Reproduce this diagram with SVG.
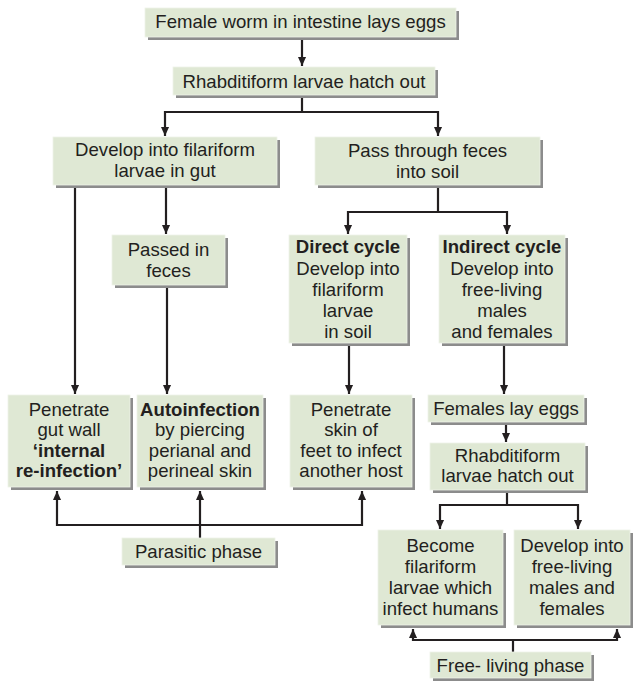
<svg xmlns="http://www.w3.org/2000/svg" width="636" height="683" viewBox="0 0 636 683">
<defs>
<style>
.sh{fill:#8c8c8c}
.bx{fill:#dfe8d4;stroke:#eef2e8;stroke-width:0.8}
text{font-family:"Liberation Sans",Arial,sans-serif;font-size:18.6px;fill:#231f20;text-anchor:middle}
.b{font-weight:bold}
.c{fill:none;stroke:#231f20;stroke-width:2.2}
</style>
<marker id="ah" markerUnits="userSpaceOnUse" markerWidth="9" markerHeight="9" viewBox="0 0 10 10" refX="10" refY="5" orient="auto">
<path d="M0,0.5 L10,5 L0,9.5 z" fill="#231f20"/>
</marker>
</defs>
<rect width="636" height="683" fill="#ffffff"/>

<g id="connectors">
<path class="c" d="M302,40 V66" marker-end="url(#ah)"/>
<path class="c" d="M302,98 V112 H165 V136" marker-end="url(#ah)"/>
<path class="c" d="M302,112 H438 V136" marker-end="url(#ah)"/>
<path class="c" d="M75,188 V394" marker-end="url(#ah)"/>
<path class="c" d="M166,188 V234" marker-end="url(#ah)"/>
<path class="c" d="M167,288 V394" marker-end="url(#ah)"/>
<path class="c" d="M438,188 V212 H348 V234" marker-end="url(#ah)"/>
<path class="c" d="M438,212 H507 V234" marker-end="url(#ah)"/>
<path class="c" d="M349,346 V394" marker-end="url(#ah)"/>
<path class="c" d="M504,346 V394" marker-end="url(#ah)"/>
<path class="c" d="M506,425 V442" marker-end="url(#ah)"/>
<path class="c" d="M507,493 V505 H440 V529" marker-end="url(#ah)"/>
<path class="c" d="M507,505 H578 V529" marker-end="url(#ah)"/>
<path class="c" d="M200,538 V491" marker-end="url(#ah)"/>
<path class="c" d="M200,525 H57 V491" marker-end="url(#ah)"/>
<path class="c" d="M200,525 H362 V491" marker-end="url(#ah)"/>
<path class="c" d="M513,652 V640 H413 V629" marker-end="url(#ah)"/>
<path class="c" d="M513,640 H617 V629" marker-end="url(#ah)"/>
</g>

<g id="n1">
<rect class="sh" x="148" y="11" width="311" height="29"/>
<rect class="bx" x="145" y="8" width="311" height="29"/>
<text x="300.5" y="28">Female worm in intestine lays eggs</text>
</g>
<g id="n2">
<rect class="sh" x="176" y="70" width="262" height="28"/>
<rect class="bx" x="173" y="67" width="262" height="28"/>
<text x="304" y="87.5">Rhabditiform larvae hatch out</text>
</g>
<g id="n3">
<rect class="sh" x="56" y="140" width="224" height="48"/>
<rect class="bx" x="53" y="137" width="224" height="48"/>
<text x="165" y="156">Develop into filariform</text>
<text x="165" y="177">larvae in gut</text>
</g>
<g id="n4">
<rect class="sh" x="318" y="140" width="225" height="48"/>
<rect class="bx" x="315" y="137" width="225" height="48"/>
<text x="427.5" y="156.5">Pass through feces</text>
<text x="427.5" y="177.5">into soil</text>
</g>
<g id="n5">
<rect class="sh" x="115" y="238" width="113" height="50"/>
<rect class="bx" x="112" y="235" width="113" height="50"/>
<text x="168.5" y="256">Passed in</text>
<text x="168.5" y="277">feces</text>
</g>
<g id="n6">
<rect class="sh" x="292" y="238" width="118" height="108"/>
<rect class="bx" x="289" y="235" width="118" height="108"/>
<text class="b" x="348" y="253">Direct cycle</text>
<text x="348" y="274.5">Develop into</text>
<text x="348" y="295.5">filariform</text>
<text x="348" y="317">larvae</text>
<text x="348" y="338">in soil</text>
</g>
<g id="n7">
<rect class="sh" x="442" y="238" width="126" height="108"/>
<rect class="bx" x="439" y="235" width="126" height="108"/>
<text class="b" x="502" y="253">Indirect cycle</text>
<text x="502" y="274.5">Develop into</text>
<text x="502" y="295.5">free-living</text>
<text x="502" y="317">males</text>
<text x="502" y="338">and females</text>
</g>
<g id="n8">
<rect class="sh" x="11" y="398" width="122" height="92"/>
<rect class="bx" x="8" y="395" width="122" height="92"/>
<text x="69" y="415.5">Penetrate</text>
<text x="69" y="436">gut wall</text>
<text class="b" x="69" y="456.5">‘internal</text>
<text class="b" x="69" y="477">re-infection’</text>
</g>
<g id="n9">
<rect class="sh" x="140" y="398" width="126" height="92"/>
<rect class="bx" x="137" y="395" width="126" height="92"/>
<text class="b" x="200" y="415.5">Autoinfection</text>
<text x="200" y="436">by piercing</text>
<text x="200" y="456.5">perianal and</text>
<text x="200" y="477">perineal skin</text>
</g>
<g id="n10">
<rect class="sh" x="293" y="398" width="122" height="92"/>
<rect class="bx" x="290" y="395" width="122" height="92"/>
<text x="351" y="415.5">Penetrate</text>
<text x="351" y="436">skin of</text>
<text x="351" y="456.5">feet to infect</text>
<text x="351" y="477">another host</text>
</g>
<g id="n11">
<rect class="sh" x="431" y="398" width="156" height="27"/>
<rect class="bx" x="428" y="395" width="156" height="27"/>
<text x="506" y="415">Females lay eggs</text>
</g>
<g id="n12">
<rect class="sh" x="433" y="446" width="155" height="47"/>
<rect class="bx" x="430" y="443" width="155" height="47"/>
<text x="507.5" y="462">Rhabditiform</text>
<text x="507.5" y="482">larvae hatch out</text>
</g>
<g id="n13">
<rect class="sh" x="381" y="533" width="125" height="95"/>
<rect class="bx" x="378" y="530" width="125" height="95"/>
<text x="440.5" y="552">Become</text>
<text x="440.5" y="573">filariform</text>
<text x="440.5" y="594">larvae which</text>
<text x="440.5" y="615">infect humans</text>
</g>
<g id="n14">
<rect class="sh" x="517" y="533" width="116" height="95"/>
<rect class="bx" x="514" y="530" width="116" height="95"/>
<text x="572" y="552">Develop into</text>
<text x="572" y="573">free-living</text>
<text x="572" y="594">males and</text>
<text x="572" y="615">females</text>
</g>
<g id="n15">
<rect class="sh" x="125" y="541" width="153" height="27"/>
<rect class="bx" x="122" y="538" width="153" height="27"/>
<text x="198.5" y="558">Parasitic phase</text>
</g>
<g id="n16">
<rect class="sh" x="433" y="655" width="161" height="26"/>
<rect class="bx" x="430" y="652" width="161" height="26"/>
<text x="510.5" y="671.5">Free- living phase</text>
</g>
</svg>
